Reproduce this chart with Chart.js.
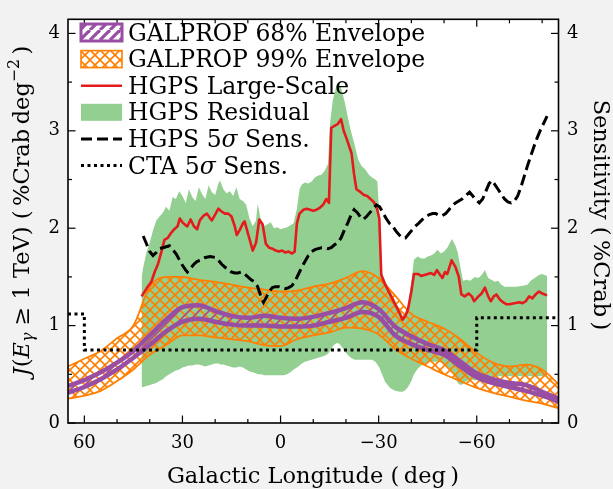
<!DOCTYPE html>
<html>
<head>
<meta charset="utf-8">
<script src="https://cdn.jsdelivr.net/npm/chart.js@4/dist/chart.umd.min.js"></script>
<style>
  html, body { margin: 0; padding: 0; background: #f2f2f2; }
  canvas { display: block; }
</style>
</head>
<body>
<canvas id="c" width="613" height="489"></canvas>
<script>
// ---- Galactic longitude grid of the GALPROP envelopes (deg) ----
const GP_LON = [65,60,55,50,45,40,35,30,25,20,15,10,5,0,-5,-10,-15,-20,-25,-30,-35,-40,-45,-50,-55,-60,-65,-70,-75,-80,-85];
const GP68_HI = [0.38,0.44,0.52,0.62,0.74,0.90,1.06,1.19,1.21,1.15,1.10,1.08,1.10,1.08,1.07,1.09,1.13,1.18,1.24,1.17,0.99,0.89,0.81,0.75,0.63,0.51,0.45,0.41,0.39,0.32,0.25];
const GP68_LO = [0.31,0.37,0.45,0.55,0.67,0.80,0.94,1.04,1.07,1.04,1.01,1.00,1.00,0.99,0.99,1.00,1.04,1.08,1.14,1.09,0.90,0.81,0.75,0.70,0.58,0.47,0.41,0.37,0.33,0.28,0.22];
const GP99_HI = [0.58,0.66,0.74,0.87,1.00,1.40,1.50,1.50,1.47,1.45,1.42,1.39,1.37,1.35,1.36,1.40,1.43,1.49,1.56,1.49,1.31,1.12,1.04,0.97,0.86,0.72,0.62,0.58,0.60,0.55,0.40];
const GP99_LO = [0.25,0.28,0.33,0.43,0.55,0.70,0.80,0.90,0.90,0.88,0.86,0.84,0.80,0.79,0.86,0.90,0.93,0.98,0.97,0.91,0.76,0.66,0.58,0.50,0.43,0.36,0.31,0.27,0.23,0.20,0.15];

// ---- HGPS residual band ----
const RES_LON = [42.5,42,41,40,39,38,37,36,35,34,
  33,32,31,30,29,28,27,26,25,24,
  23,22,21,20,19,18.5,17.5,16.5,15.5,14.5,
  13.5,12.5,11.5,10.5,9.5,8.5,7.5,7,6,5,
  4,3,2,1,0,-1,-2,-3,-4,-5,
  -5.8,-6.5,-7.5,-8.5,-9.5,-10.5,-11.5,-12.5,-13.5,-14.5,
  -15.2,-16,-17,-17.8,-18.5,-19.6,-20.5,-21.5,-22.7,-23.8,
  -24.8,-26,-27,-28,-29,-29.6,-30.2,-30.8,-32,-33.5,
  -35,-36.5,-37.3,-38.2,-39,-40,-40.8,-42,-43,-44,
  -45,-46,-47,-48,-49,-50,-51,-52.4,-53.5,-54.2,
  -55,-55.8,-57,-58,-59.4,-60.5,-61.5,-62.5,-63.5,-64.5,
  -65.5,-66.5,-67.5,-68.6,-70,-72,-74,-75.5,-76.5,-77.7,
  -79,-80,-81.5];
const RES_HI = [1.49,1.60,1.75,1.85,1.98,2.08,2.12,2.16,2.22,2.18,
  2.32,2.30,2.38,2.33,2.26,2.40,2.32,2.28,2.42,2.35,
  2.30,2.44,2.37,2.34,2.46,2.49,2.40,2.36,2.38,2.33,
  2.42,2.30,2.28,2.24,2.10,2.02,2.08,2.25,2.08,2.02,
  2.04,2.06,2.00,2.01,1.99,2.00,2.01,2.03,2.05,2.20,
  2.40,2.45,2.47,2.46,2.48,2.52,2.54,2.55,2.59,2.66,
  3.10,3.32,3.45,3.49,3.44,3.30,3.15,3.00,2.85,2.70,
  2.64,2.60,2.55,2.52,2.50,2.48,2.15,1.56,1.46,1.36,
  1.26,1.16,1.10,1.14,1.21,1.45,1.68,1.71,1.69,1.69,
  1.71,1.72,1.74,1.78,1.74,1.76,1.80,1.89,1.82,1.75,
  1.60,1.46,1.47,1.46,1.50,1.49,1.52,1.57,1.49,1.47,
  1.45,1.46,1.42,1.40,1.40,1.40,1.41,1.42,1.46,1.49,
  1.52,1.53,1.51];
const RES_LO = [0.37,0.37,0.38,0.39,0.40,0.41,0.43,0.45,0.48,0.50,
  0.52,0.54,0.55,0.57,0.58,0.59,0.59,0.60,0.60,0.59,
  0.58,0.59,0.60,0.61,0.61,0.60,0.60,0.59,0.58,0.57,
  0.57,0.58,0.57,0.55,0.53,0.52,0.51,0.50,0.50,0.49,
  0.49,0.49,0.49,0.49,0.49,0.49,0.50,0.52,0.55,0.57,
  0.59,0.61,0.63,0.64,0.65,0.66,0.67,0.68,0.69,0.71,
  0.74,0.79,0.82,0.82,0.79,0.74,0.70,0.67,0.65,0.65,
  0.65,0.65,0.65,0.65,0.63,0.60,0.57,0.52,0.42,0.36,
  0.33,0.32,0.32,0.34,0.37,0.43,0.50,0.56,0.59,0.60,
  0.62,0.63,0.63,0.63,0.62,0.60,0.57,0.52,0.46,0.41,
  0.39,0.40,0.43,0.45,0.44,0.44,0.45,0.45,0.46,0.47,
  0.47,0.48,0.48,0.48,0.48,0.48,0.48,0.48,0.48,0.48,
  0.48,0.48,0.48];

// ---- HGPS large-scale emission model ----
const RED_LON = [42.5,41,39.5,38.5,37.5,36.5,35.5,34.5,33.5,32.5,
  31.5,30.8,30,29,28.5,27.5,26.5,25.5,24.7,23.5,
  22.5,21.5,21,20,19,18,17,16,15,14,
  13.4,12.5,11.5,11,10,9,8.5,7.5,6.5,5.5,
  4.5,3.5,2.5,1.5,0.5,-0.5,-1.5,-2.5,-3.5,-4.3,
  -5,-5.8,-7,-8,-9,-10,-11,-12,-13,-14,
  -14.8,-15.5,-16.5,-17.5,-18.5,-19.3,-20.2,-21.7,-22.5,-23.2,
  -24.5,-25.5,-26.5,-27.5,-28.5,-29.5,-30.2,-30.8,-32,-33.5,
  -35,-36.5,-37.3,-38.2,-39,-40,-40.8,-42,-43,-44,
  -45,-46,-47,-47.8,-48.8,-49.5,-50.3,-51,-52.3,-53.5,
  -54.5,-55.3,-56.3,-57.5,-58.5,-59.2,-60.5,-61.5,-62.5,-63.5,
  -64.3,-65.2,-66,-67,-68,-69,-70,-71.5,-73,-74,
  -75,-76,-77,-78,-79,-80,-81.5];
const RED_VAL = [1.30,1.38,1.45,1.55,1.63,1.75,1.88,1.90,1.95,1.99,
  2.02,2.10,2.06,2.03,2.02,2.09,2.02,1.99,2.08,2.13,
  2.15,2.10,2.08,2.14,2.20,2.17,2.15,2.15,2.12,2.02,
  1.93,1.98,2.05,2.07,1.95,1.83,1.77,1.85,2.09,2.04,
  1.84,1.80,1.79,1.77,1.76,1.77,1.75,1.76,1.74,1.76,
  2.05,2.15,2.19,2.20,2.19,2.18,2.19,2.21,2.24,2.30,
  2.26,3.03,3.05,3.07,3.12,3.00,2.92,2.77,2.55,2.40,
  2.37,2.34,2.33,2.30,2.27,2.20,2.10,1.52,1.42,1.32,
  1.22,1.12,1.06,1.10,1.17,1.35,1.53,1.53,1.51,1.52,
  1.53,1.54,1.52,1.57,1.52,1.49,1.55,1.53,1.67,1.60,
  1.50,1.32,1.30,1.33,1.30,1.25,1.30,1.33,1.39,1.30,
  1.25,1.30,1.32,1.27,1.24,1.22,1.22,1.23,1.24,1.23,
  1.25,1.30,1.28,1.32,1.35,1.33,1.31];

// ---- HGPS 5 sigma point-source sensitivity (%Crab) ----
const SENS_LON = [42,41,40,39,38,37,36,35,34,33,
  32,31,30,29,28.5,27.5,26.5,25.5,24.5,23,
  21.5,20,19,18,17,16,15,14,13,12,
  11,10,9,8,7,6,5.2,4.5,3.5,2.5,
  1.5,0.5,-0.5,-1.5,-2.5,-3.5,-4.5,-5.5,-6.5,-7.5,
  -8.5,-9.5,-10.5,-11.5,-12.5,-13.5,-14.5,-15.5,-16.5,-17.5,
  -18.5,-19.5,-20.5,-21.5,-22.5,-23.5,-24.5,-25.3,-26.3,-27.3,
  -28.3,-29.3,-30.3,-31.3,-32.3,-33.3,-34.3,-35.3,-36.3,-37.3,
  -38.2,-39.2,-40.2,-41.2,-42.2,-43.4,-44.5,-45.5,-46.5,-47.5,
  -48.5,-49.5,-50.5,-51.5,-52.5,-53.5,-54.5,-55.5,-56.5,-57.8,
  -58.8,-59.8,-60.8,-61.8,-62.8,-63.8,-64.6,-65.5,-66.5,-67.5,
  -68.5,-69.5,-70.5,-71.5,-72.5,-73.5,-74.5,-75.5,-76.5,-77.5,
  -78.5,-79.5,-80.5,-81.5];
const SENS_VAL = [1.92,1.84,1.76,1.72,1.75,1.79,1.80,1.81,1.82,1.78,
  1.74,1.68,1.62,1.57,1.55,1.59,1.63,1.66,1.67,1.70,
  1.71,1.70,1.67,1.63,1.60,1.58,1.55,1.54,1.54,1.55,
  1.53,1.50,1.47,1.45,1.40,1.30,1.24,1.28,1.35,1.39,
  1.40,1.40,1.39,1.38,1.39,1.41,1.46,1.53,1.60,1.66,
  1.72,1.76,1.78,1.79,1.80,1.80,1.79,1.80,1.83,1.85,
  1.90,1.98,2.05,2.13,2.19,2.16,2.11,2.09,2.12,2.16,
  2.20,2.24,2.22,2.16,2.10,2.05,2.02,1.97,1.93,1.90,
  1.90,1.94,1.98,2.02,2.05,2.09,2.12,2.14,2.15,2.15,
  2.13,2.13,2.15,2.19,2.23,2.26,2.28,2.30,2.33,2.37,
  2.33,2.29,2.26,2.30,2.38,2.46,2.49,2.45,2.40,2.35,
  2.30,2.27,2.26,2.28,2.33,2.42,2.53,2.64,2.74,2.84,
  2.93,3.01,3.08,3.15];

// ---- CTA 5 sigma sensitivity, piecewise constant ----
const CTA_LON = [65, 60, -60, -85];
const CTA_VAL = [1.12, 0.75, 1.08, 1.08];

// ---- axes ----
const X_TICKS = [60, 30, 0, -30, -60];
const X_TICK_LABELS = ['60', '30', '0', '\u221230', '\u221260'];
const X_MINOR = [50, 40, 20, 10, -10, -20, -40, -50, -70, -80];
const Y_TICKS = [0, 1, 2, 3, 4];
const Y_TICK_LABELS = ['0', '1', '2', '3', '4'];
const Y_MINOR = [0.5, 1.5, 2.5, 3.5];

const LEGEND_LABELS = [
  [{t: 'GALPROP 68% Envelope'}],
  [{t: 'GALPROP 99% Envelope'}],
  [{t: 'HGPS Large-Scale'}],
  [{t: 'HGPS Residual'}],
  [{t: 'HGPS 5'}, {t: '\u03c3', it: true}, {t: ' Sens.'}],
  [{t: 'CTA 5'}, {t: '\u03c3', it: true}, {t: ' Sens.'}]
];

const SERIF = "'DejaVu Serif', 'Liberation Serif', serif";
const PURPLE = '#984ea3';
const ORANGE = '#ff7f00';
const RED = '#e41a1c';
const GREEN = 'rgba(77,175,74,0.6)';

const canvas = document.getElementById('c');
const mainCtx = canvas.getContext('2d');

// hatch tiles used as fill patterns
function hatchPattern(color, width, size, dirs) {
  const t = document.createElement('canvas');
  t.width = size; t.height = size;
  const g = t.getContext('2d');
  g.strokeStyle = color; g.lineWidth = width; g.lineCap = 'butt';
  for (const d of dirs) {
    for (const k of [-size, 0, size]) {
      g.beginPath();
      if (d === '/') { g.moveTo(k, size); g.lineTo(k + size, 0); }
      else { g.moveTo(k, 0); g.lineTo(k + size, size); }
      g.stroke();
    }
  }
  return mainCtx.createPattern(t, 'repeat');
}
const crossHatch = hatchPattern(ORANGE, 1.6, 10, ['/', '\\']);
const diagHatchBand = hatchPattern(PURPLE, 1.5, 10, ['/']);
const diagHatchKey = hatchPattern(PURPLE, 3.2, 10, ['/']);

const pts = (xs, ys) => xs.map((x, i) => ({x: x, y: ys[i]}));

// rich text helpers (italic, sub/superscripts)
function fontFor(s, size) {
  const sz = (s.sub || s.sup) ? size * 0.7 : size;
  return (s.it ? 'italic ' : '') + sz + 'px ' + SERIF;
}
function richWidth(ctx, segs, size) {
  let w = 0;
  for (const s of segs) { ctx.font = fontFor(s, size); w += ctx.measureText(s.t).width; }
  return w;
}
function drawRich(ctx, segs, x, y, size, align) {
  let cx = align === 'center' ? x - richWidth(ctx, segs, size) / 2 : x;
  ctx.textAlign = 'left';
  ctx.textBaseline = 'alphabetic';
  for (const s of segs) {
    ctx.font = fontFor(s, size);
    const dy = s.sub ? size * 0.22 : (s.sup ? -size * 0.42 : 0);
    ctx.fillText(s.t, cx, y + dy);
    cx += ctx.measureText(s.t).width;
  }
}

const framePlugin = {
  id: 'frame',
  beforeDraw(chart) {
    const {ctx, chartArea: a} = chart;
    ctx.save();
    ctx.fillStyle = '#f2f2f2';
    ctx.fillRect(0, 0, chart.width, chart.height);
    ctx.fillStyle = '#ffffff';
    ctx.fillRect(a.left, a.top, a.right - a.left, a.bottom - a.top);
    ctx.restore();
  },
  afterDraw(chart) {
    const {ctx, chartArea: a, scales} = chart;
    ctx.save();
    ctx.strokeStyle = '#000';
    ctx.lineWidth = 1.2;
    const seg = (x1, y1, x2, y2) => { ctx.beginPath(); ctx.moveTo(x1, y1); ctx.lineTo(x2, y2); ctx.stroke(); };
    // inward ticks on all four sides
    X_TICKS.forEach(v => { const p = scales.x.getPixelForValue(v); seg(p, a.bottom, p, a.bottom - 7.5); seg(p, a.top, p, a.top + 7.5); });
    X_MINOR.forEach(v => { const p = scales.x.getPixelForValue(v); seg(p, a.bottom, p, a.bottom - 4); seg(p, a.top, p, a.top + 4); });
    Y_TICKS.forEach(v => { const p = scales.y.getPixelForValue(v); seg(a.left, p, a.left + 7.5, p); seg(a.right, p, a.right - 7.5, p); });
    Y_MINOR.forEach(v => { const p = scales.y.getPixelForValue(v); seg(a.left, p, a.left + 4, p); seg(a.right, p, a.right - 4, p); });
    ctx.lineWidth = 1.6;
    ctx.strokeRect(a.left, a.top, a.right - a.left, a.bottom - a.top);

    // legend
    const x0 = 81, pw = 41, ph = 17;
    LEGEND_LABELS.forEach((segs, i) => {
      const cy = 32.5 + i * 26.6;
      ctx.save();
      if (i === 0 || i === 1) {
        ctx.fillStyle = i === 0 ? diagHatchKey : crossHatch;
        ctx.fillRect(x0, cy - ph / 2, pw, ph);
        ctx.strokeStyle = i === 0 ? PURPLE : ORANGE;
        ctx.lineWidth = i === 0 ? 3 : 1.6;
        ctx.strokeRect(x0, cy - ph / 2, pw, ph);
      } else if (i === 3) {
        ctx.fillStyle = GREEN;
        ctx.fillRect(x0, cy - ph / 2, pw, ph);
      } else {
        ctx.lineWidth = i === 2 ? 2.6 : 3;
        ctx.strokeStyle = i === 2 ? RED : '#000';
        ctx.setLineDash(i === 4 ? [11, 5] : (i === 5 ? [3, 3.5] : []));
        ctx.beginPath(); ctx.moveTo(x0, cy); ctx.lineTo(x0 + pw, cy); ctx.stroke();
      }
      ctx.restore();
      ctx.fillStyle = '#000';
      drawRich(ctx, segs, 128, cy + 8, 23.5, 'left');
    });

    // axis titles
    ctx.fillStyle = '#000';
    ctx.save();
    ctx.translate(28.5, 211);
    ctx.rotate(-Math.PI / 2);
    drawRich(ctx, [
      {t: 'J', it: true}, {t: '('}, {t: 'E', it: true}, {t: '\u03b3', it: true, sub: true},
      {t: ' \u2265 1 TeV) (\u2009%Crab\u2009deg'}, {t: '\u22122', sup: true}, {t: '\u2009)'}
    ], 0, 0, 22.5, 'center');
    ctx.restore();

    ctx.save();
    ctx.translate(593.5, 215);
    ctx.rotate(Math.PI / 2);
    drawRich(ctx, [{t: 'Sensitivity (\u2009%Crab\u2009)'}], 0, 0, 22.5, 'center');
    ctx.restore();

    drawRich(ctx, [{t: 'Galactic Longitude (\u2009deg\u2009)'}], 313, 483, 22.5, 'center');
    ctx.restore();
  }
};

const smooth = {cubicInterpolationMode: 'monotone', pointRadius: 0, clip: 0};
const tickFont = {family: SERIF, size: 18};

new Chart(mainCtx, {
  type: 'line',
  data: {
    datasets: [
      Object.assign({label: 'GALPROP 68% Envelope', data: pts(GP_LON, GP68_HI), borderColor: PURPLE, borderWidth: 4.5,
        backgroundColor: diagHatchBand, fill: '+1', order: 3.5}, smooth),
      Object.assign({label: 'GALPROP 68% lower', data: pts(GP_LON, GP68_LO), borderColor: PURPLE, borderWidth: 4.5,
        fill: false, order: 3}, smooth),
      Object.assign({label: 'GALPROP 99% Envelope', data: pts(GP_LON, GP99_HI), borderColor: ORANGE, borderWidth: 1.8,
        backgroundColor: crossHatch, fill: '+1', order: 5.5}, smooth),
      Object.assign({label: 'GALPROP 99% lower', data: pts(GP_LON, GP99_LO), borderColor: ORANGE, borderWidth: 1.8,
        fill: false, order: 5}, smooth),
      {label: 'HGPS Residual', data: pts(RES_LON, RES_HI), borderWidth: 0, borderColor: 'rgba(0,0,0,0)',
        backgroundColor: GREEN, fill: '+1', order: 7.5, tension: 0, pointRadius: 0, clip: 0},
      {label: 'HGPS Residual lower', data: pts(RES_LON, RES_LO), borderWidth: 0, borderColor: 'rgba(0,0,0,0)',
        fill: false, order: 7, tension: 0, pointRadius: 0, clip: 0},
      {label: 'HGPS Large-Scale', data: pts(RED_LON, RED_VAL), borderColor: RED, borderWidth: 2.6,
        fill: false, order: 2, tension: 0, pointRadius: 0, clip: 0, borderJoinStyle: 'round'},
      {label: 'HGPS 5\u03c3 Sens.', data: pts(SENS_LON, SENS_VAL), yAxisID: 'y2', borderColor: '#000', borderWidth: 3,
        borderDash: [11, 5], fill: false, order: 1, tension: 0, pointRadius: 0, clip: 0},
      {label: 'CTA 5\u03c3 Sens.', data: pts(CTA_LON, CTA_VAL), yAxisID: 'y2', borderColor: '#000', borderWidth: 3,
        borderDash: [3, 3.5], stepped: 'before', fill: false, order: 0, pointRadius: 0, clip: 0}
    ]
  },
  options: {
    responsive: false,
    devicePixelRatio: 1,
    animation: false,
    events: [],
    layout: {padding: {top: 7.5, left: 0, right: 0, bottom: 0}},
    plugins: {legend: {display: false}, tooltip: {enabled: false}},
    scales: {
      x: {
        type: 'linear', min: -85, max: 65, reverse: true,
        afterBuildTicks: s => { s.ticks = X_TICKS.map(v => ({value: v})); },
        afterFit: s => { s.height = 66; },
        grid: {display: false, drawTicks: false}, border: {display: false},
        ticks: {callback: (v, i) => X_TICK_LABELS[i], font: tickFont, color: '#000', padding: 10, maxRotation: 0, autoSkip: false}
      },
      y: {
        type: 'linear', position: 'left', min: 0, max: 4.145,
        afterBuildTicks: s => { s.ticks = Y_TICKS.map(v => ({value: v})); },
        afterFit: s => { s.width = 68; },
        grid: {display: false, drawTicks: false}, border: {display: false},
        ticks: {callback: (v, i) => Y_TICK_LABELS[i], font: tickFont, color: '#000', padding: 8}
      },
      y2: {
        type: 'linear', position: 'right', min: 0, max: 4.145,
        afterBuildTicks: s => { s.ticks = Y_TICKS.map(v => ({value: v})); },
        afterFit: s => { s.width = 54.5; },
        grid: {display: false, drawTicks: false}, border: {display: false},
        ticks: {callback: (v, i) => Y_TICK_LABELS[i], font: tickFont, color: '#000', padding: 8.5}
      }
    }
  },
  plugins: [framePlugin]
});
</script>
</body>
</html>
